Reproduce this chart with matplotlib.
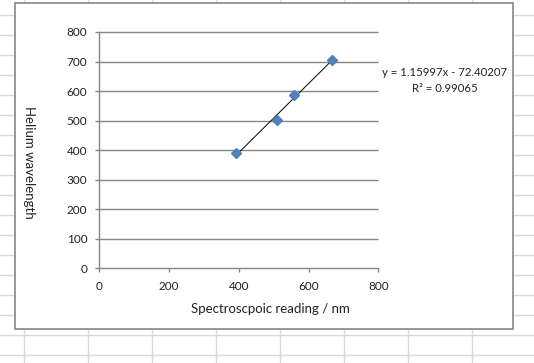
import numpy as np
import matplotlib
matplotlib.use("Agg")
import matplotlib.pyplot as plt
from matplotlib.patches import Rectangle

plt.rcParams['font.family'] = ['Lato', 'DejaVu Sans']

# data
spectro_reading = [392, 511, 558, 668]
helium_wavelength = [388.9, 501.6, 587.6, 706.5]
tick_values = [0, 100, 200, 300, 400, 500, 600, 700, 800]
x_ticks = [0, 200, 400, 600, 800]
equation_text = "y = 1.15997x - 72.40207"
r2_text = "R² = 0.99065"

W, H = 534, 363
GRID_GRAY = '#868686'
fig = plt.figure(figsize=(W / 100, H / 100), dpi=100)

# spreadsheet cells behind the chart
bg = fig.add_axes([0, 0, 1, 1])
bg.set_xlim(0, W)
bg.set_ylim(H, 0)
bg.axis('off')
for cx in range(24, W, 64):
    bg.axvline(cx, color='#d9d9d9', lw=1)
for cy in range(15, H, 20):
    bg.axhline(cy, color='#d9d9d9', lw=1)
bg.add_patch(Rectangle((15.3, 3.3), 498, 326, facecolor='white',
                       edgecolor=GRID_GRAY, lw=1.2, zorder=3))

# plot area (pixel box 99..378 x 32..268)
left, right, top, bottom = 99.2, 378.3, 32.0, 268.3
ax = fig.add_axes([left / W, 1 - bottom / H, (right - left) / W, (bottom - top) / H])
ax.set_facecolor('none')
ax.set_xlim(0, 800)
ax.set_ylim(0, 800)
ax.set_xticks(x_ticks)
ax.set_yticks(tick_values)
ax.hlines(tick_values[1:], 0, 800, color=GRID_GRAY, lw=1, clip_on=False, zorder=1)
for s in ['top', 'right']:
    ax.spines[s].set_visible(False)
for s in ['left', 'bottom']:
    ax.spines[s].set_color(GRID_GRAY)
    ax.spines[s].set_linewidth(1)
ax.tick_params(axis='both', direction='out', length=3, width=1, color=GRID_GRAY,
               labelsize=8.5, labelcolor='#222222')
ax.tick_params(axis='y', pad=5.5)
ax.tick_params(axis='x', pad=6.5)

# markers and linear trendline
ax.plot(spectro_reading, helium_wavelength, linestyle='none', marker='D',
        markersize=5.5, color='#4f81bd', zorder=4, clip_on=False)
slope, intercept = np.polyfit(spectro_reading, helium_wavelength, 1)
xs = np.array([min(spectro_reading), max(spectro_reading)])
ax.plot(xs, slope * xs + intercept, color='black', lw=0.7, zorder=3)

ax.set_xlabel('Spectroscpoic reading / nm', fontsize=9.5, color='#222222', va='center')
ax.xaxis.set_label_coords(0.612, -0.172)
ax.set_ylabel('Helium wavelength', fontsize=9.5, color='#222222', rotation=-90,
              va='center', ha='center')
ax.yaxis.set_label_coords(-0.25, 0.448)

fig.text(445 / W, 1 - 72.7 / H, equation_text, ha='center', va='center',
         fontsize=8.2, color='#222222')
fig.text(445 / W, 1 - 89 / H, r2_text, ha='center', va='center',
         fontsize=8.2, color='#222222')

fig.savefig('out.png', dpi=100)
